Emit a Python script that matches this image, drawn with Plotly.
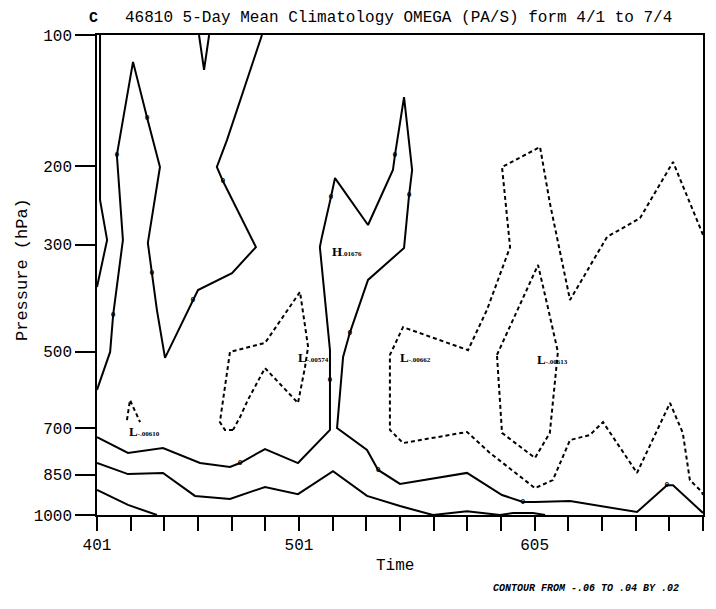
import numpy as np
import plotly.graph_objects as go

# ---------------- data ----------------
time_labels = ['401', '406', '411', '416', '421', '426', '501', '506', '511', '516',
               '521', '526', '531', '605', '610', '615', '620', '625', '630']
shown_time_labels = ['401', '501', '605']
pressure_levels = [100, 200, 300, 500, 700, 850, 1000]

# contour vertices: time index (0 = 4/1 pentad) and standard-atmosphere height (km)
solid_a_t = [0, 0.39, 0.48, 0.77, 0.59, 1.07, 1.49, 1.87, 1.51, 1.63, 1.78, 2.02,
             2.85, 3.00, 4.01, 4.72, 3.74, 3.56, 3.86, 4.90]
solid_a_z = [4.30, 5.57, 6.81, 9.32, 12.16, 15.28, 13.40, 11.76, 9.22, 8.21, 6.97, 5.37,
             7.31, 7.64, 8.21, 9.08, 11.29, 11.76, 12.66, 16.18]

solid_b_t = [0.09, 0.09, 0.30, 0.0]
solid_b_z = [16.18, 10.66, 9.32, 7.74]

solid_c_t = [3.03, 3.18, 3.33]
solid_c_z = [16.18, 15.01, 16.18]

solid_d_t = [0, 0.92, 1.96, 3.06, 3.95, 4.25, 4.99, 5.97, 6.92, 6.92, 6.62, 6.68, 6.95,
             7.07, 8.05, 8.79, 8.85, 9.12, 9.36, 9.27, 9.12, 8.05, 7.51, 7.31, 7.13,
             8.02, 8.35, 9.00, 10.99, 11.67, 12.03, 12.65, 13.01, 14.05, 16.04, 16.93,
             17.11, 18]
solid_d_z = [2.72, 2.19, 2.35, 1.85, 1.72, 1.85, 2.32, 1.85, 2.96, 5.63, 9.08, 9.42, 10.76,
             11.39, 9.82, 11.66, 12.16, 14.10, 11.66, 10.82, 9.05, 7.98, 6.21, 5.40, 3.02,
             2.29, 1.62, 1.15, 1.52, 1.05, 0.78, 0.55, 0.55, 0.58, 0.21, 1.11,
             1.11, 0.18]

solid_f_t = [0, 0.92, 1.96, 2.91, 3.95, 4.99, 5.97, 7.01, 8.02, 9.00, 9.98, 10.99, 11.97,
             12.36, 12.95, 13.31]
solid_f_z = [1.85, 1.48, 1.52, 0.75, 0.65, 1.05, 0.81, 1.58, 0.75, 0.41, 0.11, 0.24, 0.11,
             0.18, 0.18, 0.11]

solid_g_t = [0, 0.92, 1.78]
solid_g_z = [0.95, 0.45, 0.11]

dashed_h_t = [0.89, 0.98, 1.28]
dashed_h_z = [3.29, 3.96, 3.22]

dashed_i_t = [4.04, 3.80, 3.65, 3.95, 4.99, 6.03, 6.27, 6.18, 5.97, 4.99, 4.48, 4.25, 4.04]
dashed_i_z = [2.96, 2.96, 3.22, 5.57, 5.87, 7.58, 5.74, 5.07, 3.86, 5.03, 3.96, 3.39, 2.96]

dashed_j_t = [18, 17.11, 16.13, 15.15, 14.05, 13.45, 13.16, 12.03, 12.27, 11.58, 11.02,
              9.09, 8.70, 8.70, 9.09, 10.99, 11.67, 12.06, 13.01, 13.54, 14.05, 14.64,
              15.03, 16.04, 17.02, 17.40, 17.61, 17.97, 18]
dashed_j_z = [9.49, 11.93, 10.05, 9.42, 7.31, 10.56, 12.43, 11.76, 9.08, 6.97, 5.63,
              6.40, 5.47, 2.96, 2.52, 2.89, 2.19, 1.85, 1.01, 1.28, 2.62, 2.79,
              3.22, 1.52, 3.86, 2.86, 1.28, 0.88, 0.78]

dashed_k_t = [11.88, 12.62, 13.10, 13.39, 13.69, 13.45, 13.01, 12.03, 11.88]
dashed_k_z = [5.47, 7.31, 8.48, 7.07, 5.57, 2.86, 2.02, 2.86, 5.47]

# contour value labels along lines
clabel_t = [0.48, 0.59, 1.49, 1.63, 2.85, 3.74, 4.25, 6.95, 8.85, 9.27, 6.92, 7.51, 8.35,
            12.65, 16.93]
clabel_z = [6.81, 12.16, 13.40, 8.21, 7.31, 11.29, 1.85, 10.76, 12.16, 10.82, 4.63, 6.21,
            1.62, 0.55, 1.11]

# extrema labels
ext_kind = ['H', 'L', 'L', 'L', 'L']
ext_value = ['.01676', '-.00574', '-.00662', '-.00613', '-.00610']
ext_t = [6.92, 5.91, 8.94, 13.01, 0.89]
ext_z = [8.92, 5.37, 5.37, 5.30, 2.89]


def std_height_km(p):
    p = np.asarray(p, dtype=float)
    trop = 44.3308 * (1 - (p / 1013.25) ** 0.190263)
    strat = 11.0 + 6.3416 * np.log(226.32 / p)
    return np.where(p >= 226.32, trop, strat)


MONO = 'Liberation Mono'
fig = go.Figure()

solid = [(solid_a_t, solid_a_z), (solid_b_t, solid_b_z), (solid_c_t, solid_c_z),
         (solid_d_t, solid_d_z), (solid_f_t, solid_f_z), (solid_g_t, solid_g_z)]
dashed = [(dashed_h_t, dashed_h_z), (dashed_i_t, dashed_i_z),
          (dashed_j_t, dashed_j_z), (dashed_k_t, dashed_k_z)]

for t, z in solid:
    fig.add_trace(go.Scatter(x=t, y=z, mode='lines', showlegend=False, hoverinfo='skip',
                             line=dict(color='black', width=2)))
for t, z in dashed:
    fig.add_trace(go.Scatter(x=t, y=z, mode='lines', showlegend=False, hoverinfo='skip',
                             line=dict(color='black', width=2, dash='4px,3px')))

fig.add_trace(go.Scatter(x=clabel_t, y=clabel_z, mode='text', text=['<b>0</b>'] * len(clabel_t),
                         textfont=dict(family=MONO, size=8, color='black'),
                         showlegend=False, hoverinfo='skip'))

for k, v, t, z in zip(ext_kind, ext_value, ext_t, ext_z):
    fig.add_annotation(x=t, y=z, xref='x', yref='y', xanchor='left', yanchor='middle',
                       showarrow=False,
                       text=f"<b>{k}</b><span style='font-size:7px'><b>{v}</b></span>",
                       font=dict(family='Liberation Serif', size=13, color='black'))

z_ticks = std_height_km(pressure_levels)
z_lo = float(std_height_km(1000))
z_hi = float(std_height_km(100))

fig.update_xaxes(range=[0, len(time_labels) - 1], tickmode='array',
                 tickvals=list(range(len(time_labels))),
                 ticktext=[s if s in shown_time_labels else '' for s in time_labels],
                 ticks='outside', ticklen=14, tickwidth=1.5, tickcolor='black',
                 showline=True, linecolor='black', linewidth=1.5, mirror=True,
                 showgrid=False, zeroline=False,
                 tickfont=dict(family=MONO, size=16, color='black'))
fig.update_yaxes(range=[z_lo, z_hi], tickmode='array', tickvals=list(z_ticks),
                 ticktext=[str(p) for p in pressure_levels],
                 ticks='outside', ticklen=20, tickwidth=1.5, tickcolor='black',
                 showline=True, linecolor='black', linewidth=1.5, mirror=True,
                 showgrid=False, zeroline=False,
                 tickfont=dict(family=MONO, size=16, color='black'))

# page body has an 8px margin, so the figure is drawn 8px in from the window corner
OFF = 8
W, H = 716 - 2 * OFF, 609 - 2 * OFF
L, T = 97 - OFF, 35 - OFF
pw, ph = 606, 480
R, B = W - L - pw, H - T - ph


def px(x):
    return (x - OFF - L) / pw


def py(y):
    return (T + ph - (y - OFF)) / ph


annots = [
    dict(x=px(87), y=py(18), text='<b>C</b>', xanchor='left', size=15),
    dict(x=px(123), y=py(18), text='46810 5-Day Mean Climatology OMEGA (PA/S) form 4/1 to 7/4',
         xanchor='left', size=16),
    dict(x=px(395), y=py(566), text='Time', xanchor='center', size=16),
]
for a in annots:
    fig.add_annotation(x=a['x'], y=a['y'], xref='paper', yref='paper', text=a['text'],
                       xanchor=a['xanchor'], yanchor='middle', showarrow=False,
                       font=dict(family=MONO, size=a['size'], color='black'))
fig.add_annotation(x=px(22), y=py(270), xref='paper', yref='paper', text='Pressure (hPa)',
                   textangle=-90, showarrow=False, xanchor='center', yanchor='middle',
                   font=dict(family=MONO, size=17, color='black'))
fig.add_annotation(x=px(681), y=py(588), xref='paper', yref='paper',
                   text='<b><i>CONTOUR FROM -.06 TO .04 BY .02</i></b>',
                   xanchor='right', yanchor='middle', showarrow=False,
                   font=dict(family=MONO, size=10, color='black'))

fig.update_layout(width=W, height=H, margin=dict(l=L, r=R, t=T, b=B, autoexpand=False),
                  paper_bgcolor='white', plot_bgcolor='white', showlegend=False)

fig.write_html('out.html')
